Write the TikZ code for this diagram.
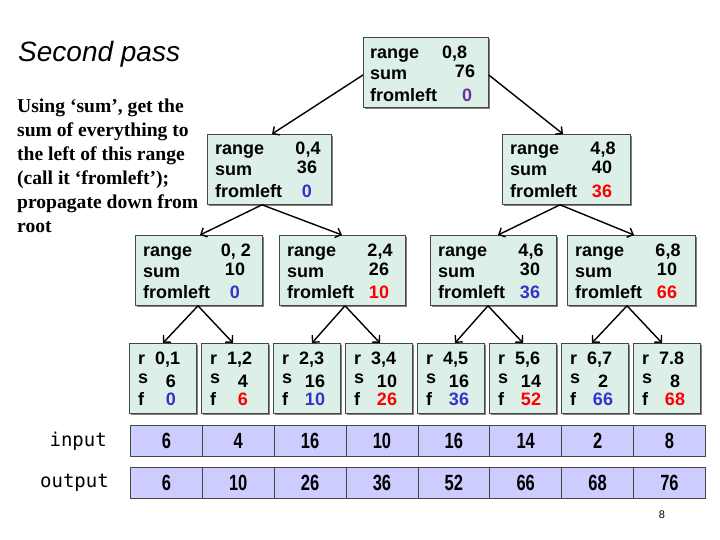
\documentclass[tikz,border=0pt]{standalone}
\usepackage{fontspec}
\setmainfont{Liberation Sans}
\newfontfamily\serifb{Liberation Serif}
\newfontfamily\monof{DejaVu Sans Mono}
\usetikzlibrary{arrows.meta,shadows,calc}
\definecolor{boxfill}{RGB}{221,240,232}
\definecolor{arrfill}{RGB}{204,204,255}
\definecolor{bordc}{RGB}{70,70,70}
\definecolor{vblue}{RGB}{51,51,204}
\definecolor{vred}{RGB}{255,0,0}
\definecolor{vpurple}{RGB}{112,48,160}
\tikzset{
  tbox/.style={draw=bordc, line width=0.8pt, fill=boxfill, minimum height=70pt, inner sep=0pt,
    drop shadow={shadow xshift=1.3pt, shadow yshift=-1.3pt, fill=black!50, opacity=1}},
  acell/.style={draw=bordc, line width=0.8pt, fill=arrfill, minimum width=71.875pt, minimum height=31pt, inner sep=0pt,
    font=\fontsize{22}{24}\selectfont\bfseries},
  lbl/.style={inner sep=0pt, font=\fontsize{18}{20}\selectfont\bfseries},
  arr/.style={line width=1.4pt, -{Straight Barb[length=5pt,width=10pt,line width=1.4pt]}},
}
\newcommand\bigbox[8]{%
  \node[tbox, minimum width=#4pt, anchor=north west] (#1) at (#2,#3) {};
  \node[lbl, anchor=base west] (#1-rl) at ([xshift=8pt,yshift=-21pt]#1.north west) {range};
  \node[lbl, anchor=base west] (#1-sl) at ([xshift=8pt,yshift=-42pt]#1.north west) {sum};
  \node[lbl, anchor=base west] (#1-fl) at ([xshift=8pt,yshift=-63pt]#1.north west) {fromleft};
  \node[lbl, anchor=base] (#1-rv) at ([xshift=101pt,yshift=-21pt]#1.north west) {#5};
  \node[lbl, anchor=base] (#1-sv) at ([xshift=100pt,yshift=-40pt]#1.north west) {#6};
  \node[lbl, anchor=base, text=#8] (#1-fv) at ([xshift=100pt,yshift=-63pt]#1.north west) {#7};
}
\newcommand\leafbox[6]{%
  \node[tbox, minimum width=67pt, anchor=north west] (#1) at (#2,343) {};
  \node[lbl, anchor=base west] (#1-rl) at ([xshift=9pt,yshift=-21pt]#1.north west) {r};
  \node[lbl, anchor=base west] (#1-sl) at ([xshift=9pt,yshift=-40pt]#1.north west) {s};
  \node[lbl, anchor=base west] (#1-fl) at ([xshift=9pt,yshift=-62pt]#1.north west) {f};
  \node[lbl, anchor=base west] (#1-rv) at ([xshift=26pt,yshift=-21pt]#1.north west) {#3};
  \node[lbl, anchor=base] (#1-sv) at ([xshift=42pt,yshift=-44pt]#1.north west) {#4};
  \node[lbl, anchor=base, text=#6] (#1-fv) at ([xshift=42pt,yshift=-62pt]#1.north west) {#5};
}
\begin{document}
\begin{tikzpicture}[x=1pt,y=-1pt]
\useasboundingbox[fill=white] (0,0) rectangle (720,540);

% title and description
\node[inner sep=0pt, anchor=base west, font=\fontsize{28}{30}\selectfont\itshape] (title) at (18,62) {Second pass};
\node[inner sep=0pt, anchor=north west, align=left, font=\serifb\fontsize{19.6}{24}\selectfont\bfseries] (desc) at (17,99)
  {Using ‘sum’, get the\\sum of everything to\\the left of this range\\(call it ‘fromleft’);\\propagate down from\\root};

% root
\node[tbox, minimum width=125pt, anchor=north west] (root) at (363,37) {};
\node[lbl, anchor=base west] (root-rl) at ([xshift=7pt,yshift=-22pt]root.north west) {range};
\node[lbl, anchor=base west] (root-sl) at ([xshift=7pt,yshift=-43pt]root.north west) {sum};
\node[lbl, anchor=base west] (root-fl) at ([xshift=7pt,yshift=-65pt]root.north west) {fromleft};
\node[lbl, anchor=base west] (root-rv) at ([xshift=79pt,yshift=-22pt]root.north west) {0,8};
\node[lbl, anchor=base] (root-sv) at ([xshift=102pt,yshift=-41pt]root.north west) {76};
\node[lbl, anchor=base, text=vpurple] (root-fv) at ([xshift=104pt,yshift=-65pt]root.north west) {0};

% level 1
\bigbox{LL}{207}{134}{124}{0,4}{36}{0}{vblue}
\bigbox{LR}{502}{134}{128}{4,8}{40}{36}{vred}

% level 2
\bigbox{A}{135}{235}{127}{0, 2}{10}{0}{vblue}
\bigbox{B}{279}{235}{126}{2,4}{26}{10}{vred}
\bigbox{C}{430}{235}{126}{4,6}{30}{36}{vblue}
\bigbox{D}{567}{235}{128}{6,8}{10}{66}{vred}

% leaves
\leafbox{l1}{129}{0,1}{6}{0}{vblue}
\leafbox{l2}{201}{1,2}{4}{6}{vred}
\leafbox{l3}{273}{2,3}{16}{10}{vblue}
\leafbox{l4}{345}{3,4}{10}{26}{vred}
\leafbox{l5}{417}{4,5}{16}{36}{vblue}
\leafbox{l6}{489}{5,6}{14}{52}{vred}
\leafbox{l7}{561}{6,7}{2}{66}{vblue}
\leafbox{l8}{633}{7.8}{8}{68}{vred}

% arrows
\draw[arr] ([yshift=-38pt]root.north west) -- ([xshift=65pt]LL.north west);
\draw[arr] ([yshift=-38pt]root.north east) -- ([xshift=61pt]LR.north west);
\draw[arr] ([xshift=55pt]LL.south west) -- ([xshift=65pt]A.north west);
\draw[arr] ([xshift=55pt]LL.south west) -- ([xshift=63pt]B.north west);
\draw[arr] ([xshift=58pt]LR.south west) -- ([xshift=68pt]C.north west);
\draw[arr] ([xshift=58pt]LR.south west) -- ([xshift=67pt]D.north west);
\draw[arr] ([xshift=63pt]A.south west) -- ([xshift=34pt]l1.north west);
\draw[arr] ([xshift=63pt]A.south west) -- ([xshift=32pt]l2.north west);
\draw[arr] ([xshift=66pt]B.south west) -- ([xshift=39pt]l3.north west);
\draw[arr] ([xshift=66pt]B.south west) -- ([xshift=35pt]l4.north west);
\draw[arr] ([xshift=58pt]C.south west) -- ([xshift=38pt]l5.north west);
\draw[arr] ([xshift=58pt]C.south west) -- ([xshift=34pt]l6.north west);
\draw[arr] ([xshift=60pt]D.south west) -- ([xshift=31pt]l7.north west);
\draw[arr] ([xshift=60pt]D.south west) -- ([xshift=29pt]l8.north west);

% arrays
\node[inner sep=0pt, anchor=east, font=\monof\fontsize{19}{20}\selectfont] (inlbl) at (107,441) {input};
\node[inner sep=0pt, anchor=east, font=\monof\fontsize{19}{20}\selectfont] (outlbl) at (109,483) {output};
\foreach \v [count=\i] in {6,4,16,10,16,14,2,8}
  \node[acell, anchor=north west] (in\i) at ({130+71.875*(\i-1)},425) {\scalebox{0.75}[1]{\v}};
\foreach \v [count=\i] in {6,10,26,36,52,66,68,76}
  \node[acell, anchor=north west] (out\i) at ({130+71.875*(\i-1)},467) {\scalebox{0.75}[1]{\v}};

\node[inner sep=0pt, font=\fontsize{11}{12}\selectfont] (pagenum) at (662,515) {8};
\end{tikzpicture}
\end{document}
